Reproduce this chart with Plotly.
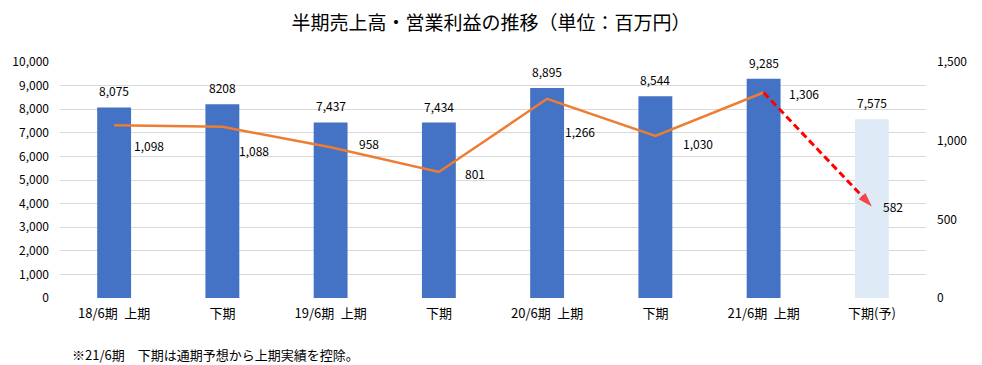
import plotly.graph_objects as go

categories = ["18/6期\u2002上期", "下期", "19/6期\u2002上期", "下期", "20/6期\u2002上期", "下期", "21/6期\u2002上期", "下期(予)"]
sales = [8075, 8208, 7437, 7434, 8895, 8544, 9285, 7575]
sales_labels = ["8,075", "8208", "7,437", "7,434", "8,895", "8,544", "9,285", "7,575"]
profit_actual = [1098, 1088, 958, 801, 1266, 1030, 1306]
profit_forecast = [1306, 582]
profit_labels = ["1,098", "1,088", "958", "801", "1,266", "1,030", "1,306", "582"]
left_ticks = list(range(0, 10001, 1000))
right_ticks = [0, 500, 1000, 1500]

title_text = "半期売上高・営業利益の推移（単位：百万円）"
footnote = "※21/6期　下期は通期予想から上期実績を控除。"

FONT = "Noto Sans CJK JP, Liberation Sans, sans-serif"

W, H = 982, 365
ML, MR, MT, MB = 57, 56, 62, 67

xpos = list(range(len(categories)))
bar_colors = ["#4472C4"] * 7 + ["#DEEAF6"]

fig = go.Figure()
fig.add_trace(go.Bar(
    x=xpos, y=sales, marker_color=bar_colors, marker_line_width=0, yaxis="y",
))
# bar value labels
for i, (v, lab) in enumerate(zip(sales, sales_labels)):
    fig.add_annotation(x=xpos[i], y=v, yref="y", text=lab, showarrow=False,
                       yanchor="bottom", yshift=6, font=dict(size=12, color="#000000", family=FONT))

fig.add_trace(go.Scatter(
    x=xpos[:7], y=profit_actual, mode="lines",
    line=dict(color="#ED7D31", width=2.5), yaxis="y2",
))
fig.add_trace(go.Scatter(
    x=xpos[6:8], y=profit_forecast, mode="lines+markers",
    line=dict(color="#FF0000", width=3, dash="7px,4px"),
    marker=dict(symbol=["circle", "arrow"], size=[0, 15], color="#FF0000", angleref="previous",
                line=dict(width=0)),
    yaxis="y2",
))

# label offsets (px, right / down) for line data labels
offsets = [(35, 20), (32, 24), (38, -4), (36, 2), (33, 33), (43, 8), (40, 1), (21, 0)]
profit_all = profit_actual + [profit_forecast[1]]
for i, (v, lab) in enumerate(zip(profit_all, profit_labels)):
    dx, dy = offsets[i]
    fig.add_annotation(x=xpos[i], y=v, yref="y2", text=lab, showarrow=False,
                       xshift=dx, yshift=-dy, font=dict(size=12, color="#000000", family=FONT))

plot_w = W - ML - MR
plot_h = H - MT - MB
fig.add_annotation(x=(67 - ML) / plot_w, y=(H - MB - 354) / plot_h, xref="paper", yref="paper",
                   xanchor="left", yanchor="middle", text=footnote, showarrow=False,
                   font=dict(size=13, color="#000000", family=FONT))

fig.update_layout(
    width=W, height=H,
    margin=dict(l=ML, r=MR, t=MT, b=MB),
    paper_bgcolor="#FFFFFF", plot_bgcolor="#FFFFFF",
    showlegend=False,
    bargap=0.687,
    font=dict(family=FONT, size=12, color="#000000"),
    title=dict(text=title_text, x=0.5, xanchor="center", y=1 - 23 / H, yanchor="middle",
               font=dict(size=19, color="#000000", family=FONT)),
    xaxis=dict(range=[-0.5, 7.5], tickvals=xpos, ticktext=categories,
               showgrid=False, showline=False, zeroline=False, ticks="",
               tickfont=dict(size=13, color="#000000"), ticklabelstandoff=6),
    yaxis=dict(range=[0, 10000], tickvals=left_ticks, tickformat=",",
               showgrid=True, gridcolor="#D9D9D9", gridwidth=1, zeroline=False, showline=False,
               ticks="", tickfont=dict(size=12, color="#000000"), ticklabelstandoff=10),
    yaxis2=dict(range=[0, 1500], tickvals=right_ticks, tickformat=",", overlaying="y",
                side="right", showgrid=False, zeroline=False, showline=False, ticks="",
                tickfont=dict(size=12, color="#000000"), ticklabelstandoff=10),
)

fig.write_html("out.html", config={"displayModeBar": False},
               post_script="document.body.style.margin='0';")
